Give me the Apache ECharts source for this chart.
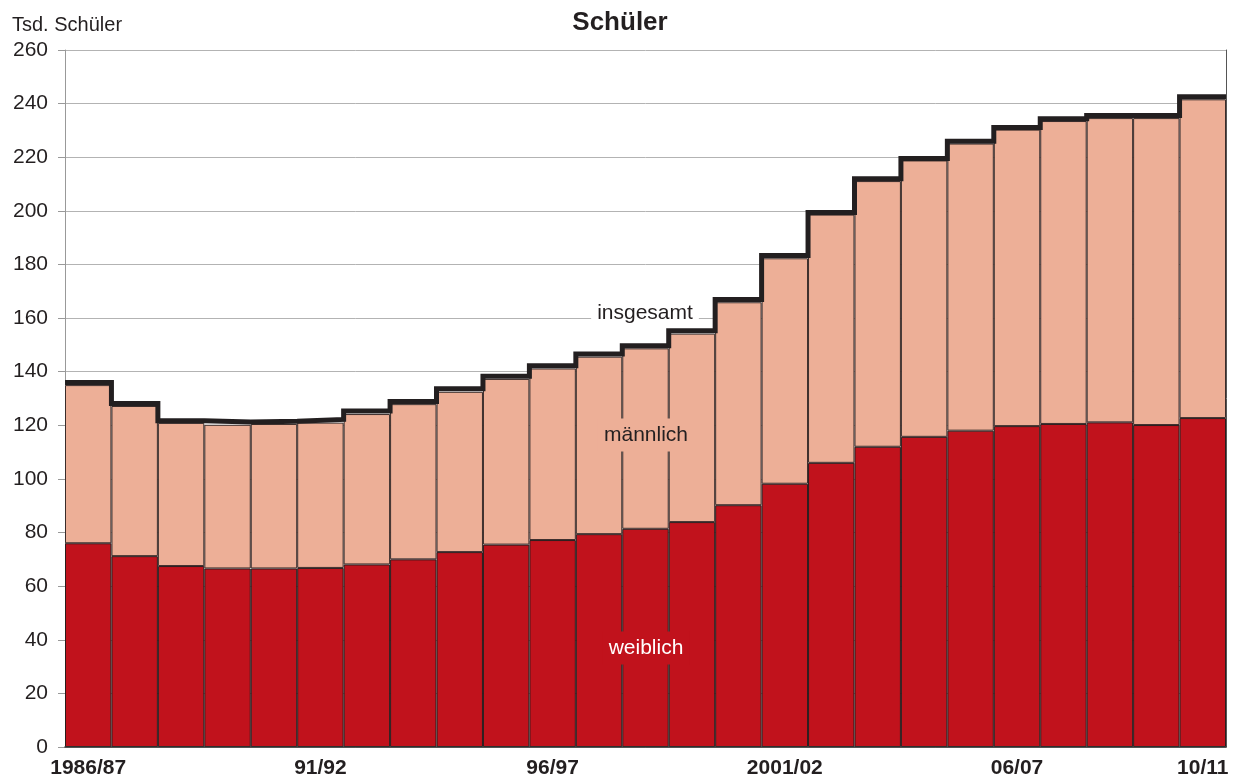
<!DOCTYPE html>
<html>
<head>
<meta charset="utf-8">
<script src="https://cdn.jsdelivr.net/npm/echarts@6/dist/echarts.min.js"></script>
<style>
html,body{margin:0;padding:0;background:#fff;}
#chart{width:1241px;height:784px;}
</style>
</head>
<body>
<div id="chart"></div>
<script>
const categories = ["1986/87","87/88","88/89","89/90","90/91","91/92","92/93","93/94","94/95","95/96","96/97","97/98","98/99","99/2000","2000/01","2001/02","02/03","03/04","04/05","05/06","06/07","07/08","08/09","09/10","10/11"];
const weiblich = [76.0,71.2,67.5,66.6,66.6,66.8,68.1,70.0,72.7,75.5,77.2,79.4,81.4,83.9,90.2,98.2,106.0,112.0,115.7,118.0,119.7,120.5,121.1,120.1,122.7];
const maennlich = [59.0,56.0,53.4,53.6,53.9,54.2,56.1,57.9,59.8,61.8,64.0,66.2,67.3,70.3,75.7,84.1,92.6,99.1,103.1,107.1,110.6,113.0,113.5,114.5,118.9];
const insgesamt = [136.0,128.1,121.7,121.2,121.5,122.2,125.3,128.9,133.6,138.3,142.2,146.6,149.7,155.3,166.9,183.3,199.4,212.0,219.5,226.0,231.1,234.4,235.6,235.6,242.6];
const shownLabels = ["1986/87","91/92","96/97","2001/02","06/07","10/11"];

const stepData = insgesamt.map((v, i) => [i, v]);
stepData.push([insgesamt.length, insgesamt[insgesamt.length - 1]]);

const chart = echarts.init(document.getElementById('chart'), null, {renderer: 'canvas'});
const font = 'Liberation Sans, Arial, Helvetica, sans-serif';
chart.setOption({
  animation: false,
  backgroundColor: '#ffffff',
  title: {
    text: 'Schüler',
    left: 615, top: 5, textAlign: 'center',
    textStyle: {fontFamily: font, fontSize: 26, fontWeight: 'bold', color: '#231f20'}
  },
  grid: {left: 65, right: 15, top: 50, bottom: 37, containLabel: false},
  xAxis: [{
    type: 'category',
    data: categories,
    boundaryGap: true,
    axisLine: {lineStyle: {color: '#333', width: 1.5}},
    axisTick: {show: false},
    axisLabel: {
      interval: (idx, val) => shownLabels.indexOf(val) >= 0,
      fontFamily: font, fontSize: 21, fontWeight: 'bold', color: '#231f20', margin: 11
    },
    z: 10
  }, {
    type: 'value', min: 0, max: categories.length, show: false
  }],
  yAxis: [{
    type: 'value', min: 0, max: 260, interval: 20,
    name: 'Tsd. Schüler',
    nameLocation: 'end',
    nameGap: 0,
    nameTextStyle: {fontFamily: font, fontSize: 20, color: '#231f20', align: 'left', verticalAlign: 'bottom', padding: [0, 0, 15, -53]},
    axisLine: {show: true, lineStyle: {color: '#999', width: 1}},
    axisTick: {show: true, length: 7, lineStyle: {color: '#999'}},
    axisLabel: {fontFamily: font, fontSize: 21, color: '#231f20', margin: 17},
    splitLine: {show: true, lineStyle: {color: '#b3b3b3', width: 1}}
  }, {
    type: 'value', min: 0, max: 260, interval: 20, position: 'right',
    axisLine: {show: true, lineStyle: {color: '#555', width: 1}},
    axisTick: {show: false}, axisLabel: {show: false}, splitLine: {show: false}
  }],
  series: [{
    name: 'weiblich', type: 'bar', stack: 's', data: weiblich,
    barCategoryGap: '0%',
    itemStyle: {color: '#c1121c', borderColor: '#2a1c1c', borderWidth: 1}
  }, {
    name: 'männlich', type: 'bar', stack: 's', data: maennlich,
    barCategoryGap: '0%',
    itemStyle: {color: '#edaf97', borderColor: '#3a2c2a', borderWidth: 1}
  }, {
    name: 'insgesamt', type: 'line', xAxisIndex: 1, data: stepData,
    step: 'end', symbol: 'none', z: 5,
    lineStyle: {color: '#231f20', width: 5, join: 'miter', cap: 'butt'}
  }],
  graphic: [{
    type: 'text', x: 645, y: 313, z: 100,
    style: {text: 'insgesamt', fontFamily: font, fontSize: 21, fill: '#231f20', align: 'center', verticalAlign: 'middle', backgroundColor: '#ffffff', padding: [3, 6]}
  }, {
    type: 'text', x: 646, y: 435, z: 100,
    style: {text: 'männlich', fontFamily: font, fontSize: 21, fill: '#231f20', align: 'center', verticalAlign: 'middle', backgroundColor: '#edaf97', padding: [6, 6]}
  }, {
    type: 'text', x: 646, y: 648, z: 100,
    style: {text: 'weiblich', fontFamily: font, fontSize: 21, fill: '#ffffff', align: 'center', verticalAlign: 'middle', backgroundColor: '#c1121c', padding: [6, 6]}
  }]
});
</script>
</body>
</html>
